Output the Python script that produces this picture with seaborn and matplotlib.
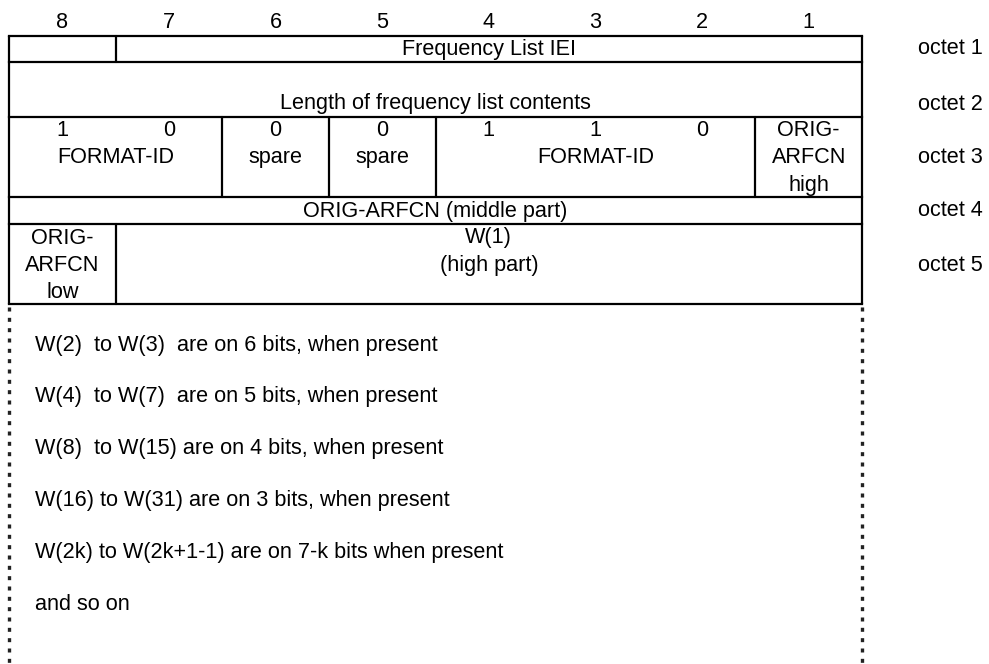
import matplotlib
matplotlib.use('Agg')
import matplotlib.pyplot as plt
import seaborn as sns

# bit numbers over the columns, octet names on the right
bit_labels = ['8', '7', '6', '5', '4', '3', '2', '1']
octet_labels = ['octet 1', 'octet 2', 'octet 3', 'octet 4', 'octet 5']

# cells per octet: (first column, columns spanned, text lines)
octet1_cells = [(0, 1, []), (1, 7, ['Frequency List IEI'])]
octet2_cells = [(0, 8, ['Length of frequency list contents'])]
octet3_values = ['1', '0', '0', '0', '1', '1', '0', '']
octet3_cells = [(0, 2, ['', 'FORMAT-ID']), (2, 1, ['', 'spare']), (3, 1, ['', 'spare']),
                (4, 3, ['', 'FORMAT-ID']), (7, 1, ['ORIG-', 'ARFCN', 'high'])]
octet4_cells = [(0, 8, ['ORIG-ARFCN (middle part)'])]
octet5_cells = [(0, 1, ['ORIG-', 'ARFCN', 'low']), (1, 7, ['W(1)', '(high part)'])]

notes = ['W(2)  to W(3)  are on 6 bits, when present',
         'W(4)  to W(7)  are on 5 bits, when present',
         'W(8)  to W(15) are on 4 bits, when present',
         'W(16) to W(31) are on 3 bits, when present',
         'W(2k) to W(2k+1-1) are on 7-k bits when present',
         'and so on']

# layout (pixels)
W, H = 989, 664
x0, x1 = 9, 862
colw = (x1 - x0) / 8
row_edges = [36, 62, 117, 197, 224, 304]
first_line = [49, 104, 130, 211, 238]
octet_line = [0, 0, 1, 0, 1]
pitch = 27.5
fs = 15.6

sns.set_theme(style='white')
plt.rcParams['font.family'] = ['Liberation Sans', 'DejaVu Sans']

fig = plt.figure(figsize=(W / 100, H / 100), dpi=100)
ax = fig.add_axes([0, 0, 1, 1])
ax.set_xlim(0, W)
ax.set_ylim(H, 0)
ax.axis('off')

lw = 1.6
txt = dict(fontsize=fs, color='black', va='center')

for i, b in enumerate(bit_labels):
    ax.text(x0 + (i + 0.5) * colw, 23, b, ha='center', **txt)

rows = [octet1_cells, octet2_cells, octet3_cells, octet4_cells, octet5_cells]

# horizontal lines
for y in row_edges:
    ax.plot([x0, x1], [y, y], color='black', lw=lw, solid_capstyle='projecting')
ax.plot([x0, x0], [row_edges[0], row_edges[-1]], color='black', lw=lw)
ax.plot([x1, x1], [row_edges[0], row_edges[-1]], color='black', lw=lw)

for r, cells in enumerate(rows):
    top, bot = row_edges[r], row_edges[r + 1]
    for start, span, lines in cells:
        if start > 0:
            xs = x0 + start * colw
            ax.plot([xs, xs], [top, bot], color='black', lw=lw)
        cx = x0 + (start + span / 2) * colw
        for k, s in enumerate(lines):
            if s:
                ax.text(cx, first_line[r] + k * pitch, s, ha='center', **txt)
    ax.text(918, first_line[r] + octet_line[r] * pitch, octet_labels[r], ha='left', **txt)

for i, v in enumerate(octet3_values):
    if v:
        ax.text(x0 + (i + 0.5) * colw, first_line[2], v, ha='center', **txt)

# open-ended part below the table
for xv in (x0, x1):
    ax.plot([xv, xv], [row_edges[-1] + 3, H], color='#222222', lw=2.4,
            linestyle=(0, (1.2, 1.9)), solid_capstyle='butt')

for k, s in enumerate(notes):
    ax.text(35, 345 + k * 51.8, s, ha='left', **txt)

fig.savefig('out.png', dpi=100)
